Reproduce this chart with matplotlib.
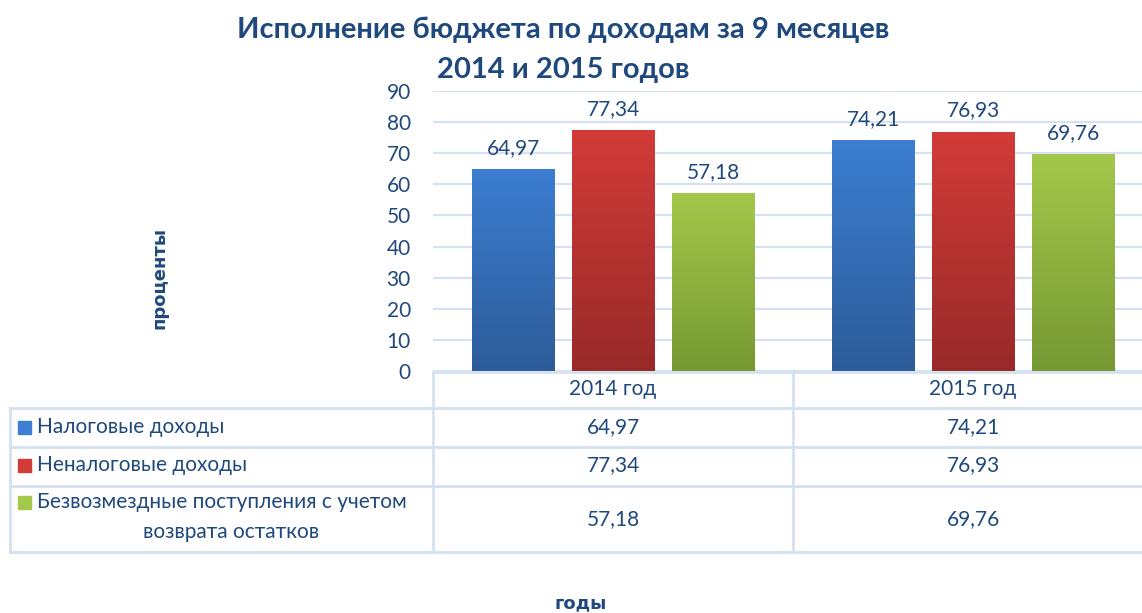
import numpy as np
import matplotlib.pyplot as plt
from matplotlib.lines import Line2D
from matplotlib.patches import Rectangle

plt.rcParams['font.family'] = ['Lato', 'DejaVu Sans']

years = ["2014 год", "2015 год"]
series = ["Налоговые доходы",
          "Неналоговые доходы",
          "Безвозмездные поступления с учетом\nвозврата остатков"]
values = [[64.97, 74.21],
          [77.34, 76.93],
          [57.18, 69.76]]
yticks = [0, 10, 20, 30, 40, 50, 60, 70, 80, 90]

# gradient colours: (top, bottom)
colors = [("#3c7ed2", "#2d5c98"),
          ("#d23b38", "#982a29"),
          ("#a4c84b", "#769833")]
txt = "#1f497d"
grid = "#d5e1f0"
fs = 15

W, H = 1142, 613
fig = plt.figure(figsize=(W / 100, H / 100), dpi=100)


def fx(x):
    return x / W


def fy(y):
    return 1 - y / H


# plot area (right edge runs past the picture, like the original)
ax = fig.add_axes([fx(433), fy(371), fx(1153 - 433), fy(91) - fy(371)])
ax.set_yticks(yticks)
ax.set_xticks([])
ax.tick_params(axis='y', length=0, labelsize=fs, labelcolor=txt, pad=16)
for s in ax.spines.values():
    s.set_visible(False)
ax.yaxis.grid(True, color=grid, lw=1.6)
ax.set_axisbelow(True)

x = np.arange(len(years))
width = 0.228
step = 100 / 360
grad = np.linspace(0, 1, 256).reshape(-1, 1)
for i, vals in enumerate(values):
    pos = x + (i - 1) * step
    rects = ax.bar(pos, vals, width, color="none", zorder=2)
    top, bot = colors[i]
    cmap = plt.matplotlib.colors.LinearSegmentedColormap.from_list("g", [bot, top])
    for r, v in zip(rects, vals):
        x0 = r.get_x()
        im = ax.imshow(grad, cmap=cmap, origin='lower', aspect='auto',
                       extent=(x0, x0 + width, 0, v), zorder=2)
        im.set_clip_path(r)
        ax.annotate('{:.2f}'.format(v).replace('.', ','),
                    xy=(r.get_x() + width / 2, v), xytext=(0, 8),
                    textcoords="offset points", ha='center', va='bottom',
                    fontsize=fs, color=txt)
ax.set_xlim(-0.5, 1.5)
ax.set_ylim(0, 90)


# data table under the chart
def hline(x0, x1, y):
    fig.add_artist(Line2D([fx(x0), fx(x1)], [fy(y), fy(y)], color=grid, lw=2))


def vline(x, y0, y1):
    fig.add_artist(Line2D([fx(x), fx(x)], [fy(y0), fy(y1)], color=grid, lw=2))


hline(433, W, 372)
for y in [408, 447, 486, 552]:
    hline(10, W, y)
vline(10, 408, 552)
vline(433, 372, 552)
vline(793, 372, 552)

col_x = [613, 973]
for j, yr in enumerate(years):
    fig.text(fx(col_x[j]), fy(389), yr, ha='center', va='center',
             fontsize=fs, color=txt)

row_y = [427, 465, 519]
for i, name in enumerate(series):
    sq_y = row_y[i] if i < 2 else 502
    fig.add_artist(Rectangle((fx(18), fy(sq_y + 7)),
                             fx(13), fy(0) - fy(13),
                             color=colors[i][0], transform=fig.transFigure))
    if i < 2:
        fig.text(fx(37), fy(row_y[i]), name, ha='left', va='center',
                 fontsize=fs, color=txt)
    else:
        first, second = name.split("\n")
        fig.text(fx(37), fy(502), first, ha='left', va='center',
                 fontsize=fs, color=txt)
        fig.text(fx(231), fy(532), second, ha='center', va='center',
                 fontsize=fs, color=txt)
    for j in range(len(years)):
        fig.text(fx(col_x[j]), fy(row_y[i]),
                 '{:.2f}'.format(values[i][j]).replace('.', ','),
                 ha='center', va='center', fontsize=fs, color=txt)

fig.text(fx(563), fy(30), "Исполнение бюджета по доходам за 9 месяцев",
         ha='center', va='center', fontsize=21, fontweight='bold', color=txt)
fig.text(fx(563), fy(70), "2014 и 2015 годов",
         ha='center', va='center', fontsize=21, fontweight='bold', color=txt)
fig.text(fx(160), fy(278), "проценты", rotation=90, ha='center', va='center',
         fontsize=13, fontweight='bold', color=txt, family='DejaVu Sans')
fig.text(fx(581), fy(603), "годы", ha='center', va='center',
         fontsize=13, fontweight='bold', color=txt, family='DejaVu Sans')

fig.savefig("out.png", dpi=100)
